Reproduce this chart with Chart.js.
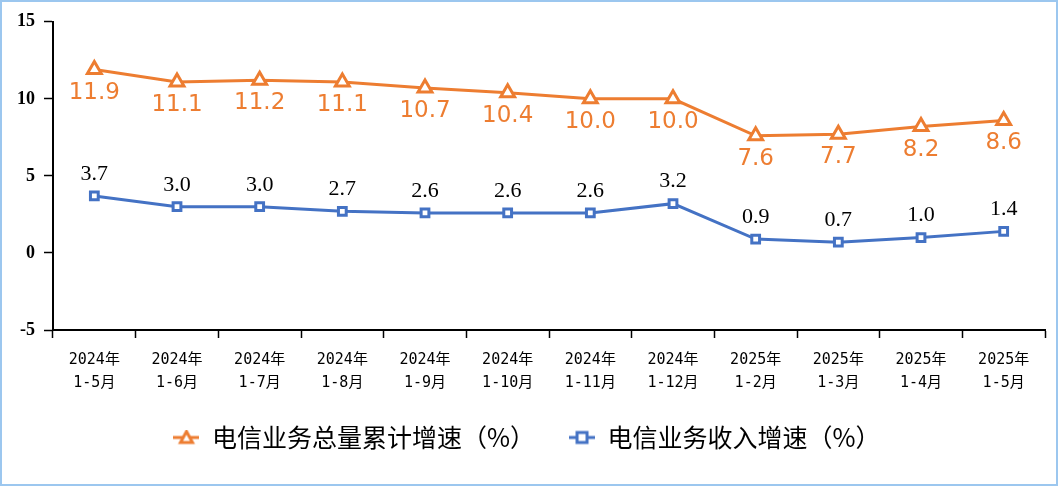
<!DOCTYPE html>
<html>
<head>
  <title>电信业务增速</title>
  <script src="https://cdn.jsdelivr.net/npm/chart.js"></script>
  <style>
    body { margin: 0; background: #fff; }
    #wrap {
      width: 1058px;
      height: 486px;
      box-sizing: border-box;
      border: 2px solid #9cc7ef;
      background: #fff;
    }
    #myChart { display: block; }
  </style>
</head>
<body>
  <div id="wrap"><canvas id="myChart" width="1054" height="482"></canvas></div>

  <script>
    // Data
    const years = ['2024年', '2024年', '2024年', '2024年', '2024年', '2024年', '2024年', '2024年', '2025年', '2025年', '2025年', '2025年'];
    const periods = ['1-5月', '1-6月', '1-7月', '1-8月', '1-9月', '1-10月', '1-11月', '1-12月', '1-2月', '1-3月', '1-4月', '1-5月'];
    const volumeGrowth = [11.9, 11.1, 11.2, 11.1, 10.7, 10.4, 10.0, 10.0, 7.6, 7.7, 8.2, 8.6];
    const revenueGrowth = [3.7, 3.0, 3.0, 2.7, 2.6, 2.6, 2.6, 3.2, 0.9, 0.7, 1.0, 1.4];
    const yTicks = [-5, 0, 5, 10, 15];

    const orange = '#ed7d31';
    const blue = '#4472c4';

    // small canvases used as legend markers (line with marker in the middle)
    function legendIcon(color, shape) {
      const c = document.createElement('canvas');
      c.width = 26; c.height = 16;
      const g = c.getContext('2d');
      g.strokeStyle = color;
      g.lineWidth = 3;
      g.beginPath(); g.moveTo(0, 8); g.lineTo(26, 8); g.stroke();
      g.fillStyle = '#fff';
      g.beginPath();
      if (shape === 'tri') {
        g.moveTo(13, 2); g.lineTo(19, 13); g.lineTo(7, 13); g.closePath();
      } else {
        g.rect(8, 3, 10, 10);
      }
      g.fill(); g.stroke();
      return c;
    }
    const icons = [legendIcon(orange, 'tri'), legendIcon(blue, 'sq')];

    // draws the value labels (orange below the line, blue above it)
    const valueLabels = {
      id: 'valueLabels',
      afterDatasetsDraw(chart) {
        const ctx = chart.ctx;
        ctx.save();
        ctx.textAlign = 'center';
        ctx.textBaseline = 'middle';
        chart.data.datasets.forEach((ds, i) => {
          const meta = chart.getDatasetMeta(i);
          meta.data.forEach((pt, j) => {
            const v = ds.data[j].toFixed(1);
            if (i === 0) {
              ctx.font = '23px "DejaVu Sans", sans-serif';
              ctx.fillStyle = orange;
              ctx.fillText(v, pt.x, pt.y + 23);
            } else {
              ctx.font = '22px "Liberation Serif", "Times New Roman", serif';
              ctx.fillStyle = '#000';
              ctx.fillText(v, pt.x, pt.y - 22);
            }
          });
        });
        ctx.restore();
      }
    };

    const ctx = document.getElementById('myChart').getContext('2d');
    const chart = new Chart(ctx, {
      type: 'line',
      data: {
        labels: years.map((y, i) => [y, periods[i]]),
        datasets: [
          {
            label: '电信业务总量累计增速（%）',
            data: volumeGrowth,
            borderColor: orange,
            borderWidth: 3,
            pointStyle: 'triangle',
            pointRadius: 8,
            pointBorderWidth: 3,
            pointBackgroundColor: '#fff',
            pointBorderColor: orange,
            tension: 0
          },
          {
            label: '电信业务收入增速（%）',
            data: revenueGrowth,
            borderColor: blue,
            borderWidth: 3,
            pointStyle: 'rect',
            pointRadius: 5.5,
            pointBorderWidth: 3,
            pointBackgroundColor: '#fff',
            pointBorderColor: blue,
            tension: 0
          }
        ]
      },
      options: {
        responsive: false,
        animation: false,
        layout: { padding: { top: 17, right: 4, left: 0, bottom: 24 } },
        scales: {
          x: {
            offset: true,
            grid: {
              offset: true,
              drawOnChartArea: false,
              drawTicks: true,
              tickLength: 8,
              tickColor: '#000',
              tickWidth: 1.5
            },
            border: { color: '#000', width: 2 },
            ticks: {
              color: '#000',
              maxRotation: 0,
              autoSkip: false,
              padding: 11,
              font: { family: '"DejaVu Sans Mono", "Noto Sans CJK SC", monospace', size: 15, lineHeight: 1.5 }
            },
            afterFit(scale) { scale.height = 61; }
          },
          y: {
            min: -5,
            max: 15,
            afterBuildTicks(scale) { scale.ticks = yTicks.map(v => ({ value: v })); },
            grid: {
              drawOnChartArea: false,
              drawTicks: true,
              tickLength: 9,
              tickColor: '#000',
              tickWidth: 1.5
            },
            border: { color: '#000', width: 2 },
            ticks: {
              color: '#000',
              padding: 9,
              font: { family: '"Liberation Serif", "Times New Roman", serif', size: 18, weight: 'bold' }
            },
            afterFit(scale) { scale.width = 51; }
          }
        },
        plugins: {
          legend: {
            position: 'bottom',
            labels: {
              color: '#000',
              usePointStyle: true,
              pointStyleWidth: 26,
              padding: 34,
              font: { family: '"Noto Sans CJK SC", sans-serif', size: 25 },
              generateLabels(chart) {
                const items = Chart.defaults.plugins.legend.labels.generateLabels(chart);
                items.forEach((it, i) => { it.pointStyle = icons[i]; });
                return items;
              }
            }
          },
          tooltip: { enabled: false }
        }
      },
      plugins: [valueLabels]
    });
  </script>
</body>
</html>
